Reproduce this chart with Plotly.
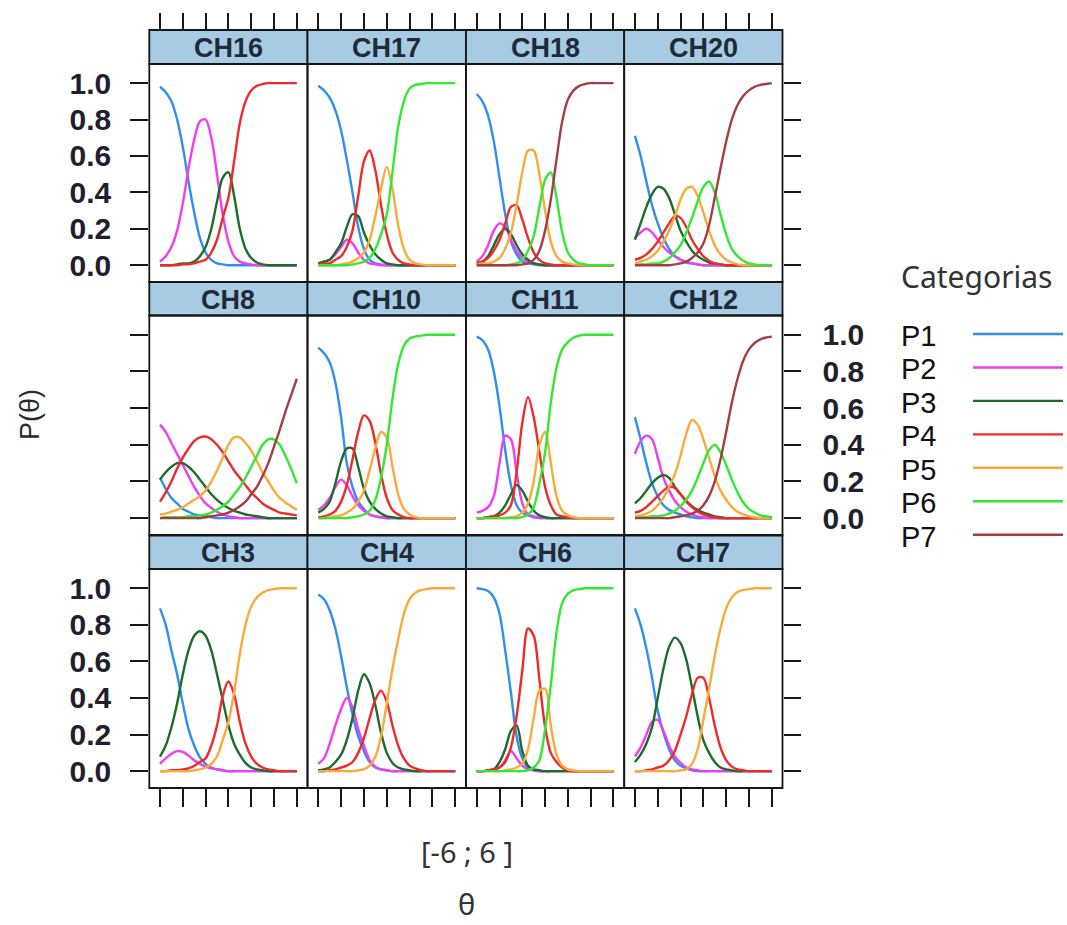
import plotly.graph_objects as go

W, H = 1067, 925

# ---------------- data ----------------
theta = [-6.0, -5.5, -5.0, -4.5, -4.0, -3.5, -3.0, -2.5, -2.0, -1.5, -1.0, -0.5,
         0.0, 0.5, 1.0, 1.5, 2.0, 2.5, 3.0, 3.5, 4.0, 4.5, 5.0, 5.5, 6.0]

categories = ["P1", "P2", "P3", "P4", "P5", "P6", "P7"]
cat_colors = ["#2f8ff0", "#f23cf2", "#1f6b2b", "#ee2a2a", "#f9aa3a", "#33e833", "#a63c46"]

panel_names = ["CH16", "CH17", "CH18", "CH20",
               "CH8", "CH10", "CH11", "CH12",
               "CH3", "CH4", "CH6", "CH7"]

y_tickvals = [0.0, 0.2, 0.4, 0.6, 0.8, 1.0]
y_ticktext = ["0.0", "0.2", "0.4", "0.6", "0.8", "1.0"]
x_tickvals = [-6, -4, -2, 0, 2, 4, 6]

CH16 = [
    [0.98, 0.95, 0.90, 0.80, 0.65, 0.46, 0.29, 0.15, 0.07, 0.03, 0.01, 0.005, 0, 0, 0, 0, 0, 0, 0, 0, 0, 0, 0, 0, 0],
    [0.02, 0.05, 0.10, 0.19, 0.34, 0.53, 0.69, 0.79, 0.80, 0.70, 0.50, 0.28, 0.13, 0.05, 0.02, 0.01, 0.005, 0, 0, 0, 0, 0, 0, 0, 0],
    [0, 0, 0, 0.005, 0.01, 0.01, 0.02, 0.05, 0.10, 0.20, 0.35, 0.48, 0.51, 0.38, 0.20, 0.09, 0.04, 0.015, 0.005, 0, 0, 0, 0, 0, 0],
    [0, 0, 0, 0, 0.005, 0.005, 0.01, 0.02, 0.03, 0.07, 0.14, 0.26, 0.37, 0.57, 0.78, 0.90, 0.96, 0.985, 0.995, 1, 1, 1, 1, 1, 1],
]
CH17 = [
    [0.985, 0.96, 0.92, 0.85, 0.74, 0.58, 0.40, 0.21, 0.09, 0.03, 0.01, 0.005, 0, 0, 0, 0, 0, 0, 0, 0, 0, 0, 0, 0, 0],
    [0.01, 0.02, 0.03, 0.06, 0.10, 0.14, 0.12, 0.07, 0.03, 0.01, 0.005, 0, 0, 0, 0, 0, 0, 0, 0, 0, 0, 0, 0, 0, 0],
    [0.01, 0.02, 0.03, 0.07, 0.12, 0.21, 0.28, 0.27, 0.18, 0.11, 0.06, 0.03, 0.01, 0.005, 0, 0, 0, 0, 0, 0, 0, 0, 0, 0, 0],
    [0, 0.01, 0.01, 0.03, 0.05, 0.10, 0.19, 0.38, 0.57, 0.63, 0.52, 0.33, 0.17, 0.07, 0.03, 0.01, 0.005, 0, 0, 0, 0, 0, 0, 0, 0],
    [0, 0, 0, 0, 0.005, 0.01, 0.02, 0.04, 0.07, 0.14, 0.27, 0.42, 0.54, 0.42, 0.22, 0.09, 0.03, 0.01, 0.005, 0, 0, 0, 0, 0, 0],
    [0, 0, 0, 0, 0, 0, 0.005, 0.01, 0.02, 0.04, 0.09, 0.17, 0.28, 0.51, 0.76, 0.90, 0.97, 0.99, 0.995, 1, 1, 1, 1, 1, 1],
]
CH18 = [
    [0.94, 0.90, 0.82, 0.68, 0.48, 0.28, 0.13, 0.06, 0.02, 0.01, 0.005, 0, 0, 0, 0, 0, 0, 0, 0, 0, 0, 0, 0, 0, 0],
    [0.02, 0.05, 0.11, 0.19, 0.23, 0.21, 0.14, 0.08, 0.04, 0.02, 0.01, 0.005, 0, 0, 0, 0, 0, 0, 0, 0, 0, 0, 0, 0, 0],
    [0.01, 0.02, 0.05, 0.11, 0.17, 0.20, 0.17, 0.11, 0.06, 0.03, 0.01, 0.005, 0, 0, 0, 0, 0, 0, 0, 0, 0, 0, 0, 0, 0],
    [0.01, 0.02, 0.04, 0.08, 0.14, 0.23, 0.32, 0.33, 0.25, 0.15, 0.07, 0.03, 0.01, 0.005, 0, 0, 0, 0, 0, 0, 0, 0, 0, 0, 0],
    [0, 0.01, 0.01, 0.02, 0.04, 0.09, 0.18, 0.33, 0.51, 0.63, 0.63, 0.50, 0.30, 0.13, 0.05, 0.02, 0.01, 0.005, 0, 0, 0, 0, 0, 0, 0],
    [0, 0, 0, 0, 0, 0, 0.005, 0.01, 0.03, 0.08, 0.16, 0.32, 0.47, 0.51, 0.37, 0.18, 0.07, 0.03, 0.01, 0.005, 0, 0, 0, 0, 0],
    [0, 0, 0, 0, 0, 0, 0, 0, 0.005, 0.01, 0.03, 0.08, 0.19, 0.36, 0.58, 0.79, 0.91, 0.96, 0.985, 0.995, 1, 1, 1, 1, 1],
]
CH20 = [
    [0.71, 0.60, 0.46, 0.33, 0.23, 0.15, 0.09, 0.05, 0.03, 0.015, 0.01, 0.005, 0, 0, 0, 0, 0, 0, 0, 0, 0, 0, 0, 0, 0],
    [0.15, 0.18, 0.20, 0.18, 0.14, 0.10, 0.07, 0.05, 0.03, 0.02, 0.01, 0.005, 0, 0, 0, 0, 0, 0, 0, 0, 0, 0, 0, 0, 0],
    [0.14, 0.23, 0.32, 0.39, 0.43, 0.42, 0.37, 0.28, 0.19, 0.13, 0.08, 0.05, 0.03, 0.015, 0.01, 0.005, 0, 0, 0, 0, 0, 0, 0, 0, 0],
    [0.03, 0.04, 0.06, 0.09, 0.13, 0.18, 0.23, 0.27, 0.26, 0.21, 0.14, 0.09, 0.05, 0.025, 0.01, 0.005, 0, 0, 0, 0, 0, 0, 0, 0, 0],
    [0.01, 0.02, 0.03, 0.05, 0.08, 0.13, 0.19, 0.27, 0.36, 0.42, 0.43, 0.38, 0.29, 0.19, 0.11, 0.06, 0.03, 0.015, 0.005, 0, 0, 0, 0, 0, 0],
    [0, 0.005, 0.005, 0.01, 0.01, 0.02, 0.04, 0.07, 0.11, 0.18, 0.26, 0.35, 0.43, 0.46, 0.40, 0.28, 0.17, 0.09, 0.05, 0.025, 0.01, 0.005, 0, 0, 0],
    [0, 0, 0, 0, 0, 0, 0, 0.005, 0.01, 0.02, 0.04, 0.07, 0.12, 0.22, 0.37, 0.53, 0.68, 0.80, 0.88, 0.93, 0.96, 0.98, 0.99, 0.995, 1.0],
]
CH8 = [
    [0.22, 0.16, 0.11, 0.08, 0.05, 0.035, 0.02, 0.015, 0.01, 0.005, 0, 0, 0, 0, 0, 0, 0, 0, 0, 0, 0, 0, 0, 0, 0],
    [0.51, 0.47, 0.41, 0.35, 0.29, 0.23, 0.17, 0.12, 0.08, 0.055, 0.035, 0.02, 0.01, 0.005, 0, 0, 0, 0, 0, 0, 0, 0, 0, 0, 0],
    [0.21, 0.25, 0.28, 0.30, 0.30, 0.28, 0.25, 0.21, 0.17, 0.13, 0.10, 0.075, 0.055, 0.04, 0.03, 0.02, 0.015, 0.01, 0.005, 0, 0, 0, 0, 0, 0],
    [0.09, 0.14, 0.20, 0.27, 0.33, 0.38, 0.42, 0.44, 0.445, 0.43, 0.40, 0.36, 0.31, 0.26, 0.22, 0.18, 0.14, 0.11, 0.08, 0.06, 0.045, 0.03, 0.025, 0.02, 0.015],
    [0.02, 0.025, 0.035, 0.045, 0.06, 0.08, 0.10, 0.12, 0.15, 0.20, 0.26, 0.33, 0.40, 0.44, 0.44, 0.41, 0.37, 0.31, 0.25, 0.20, 0.15, 0.11, 0.085, 0.065, 0.045],
    [0, 0.005, 0.005, 0.005, 0.005, 0.01, 0.01, 0.015, 0.02, 0.03, 0.045, 0.065, 0.09, 0.13, 0.17, 0.22, 0.28, 0.34, 0.40, 0.43, 0.43, 0.40, 0.34, 0.27, 0.19],
    [0, 0, 0, 0, 0, 0, 0, 0, 0.005, 0.01, 0.015, 0.02, 0.03, 0.045, 0.065, 0.09, 0.13, 0.17, 0.23, 0.30, 0.39, 0.48, 0.58, 0.67, 0.76],
]
CH10 = [
    [0.93, 0.90, 0.85, 0.74, 0.55, 0.30, 0.17, 0.09, 0.05, 0.02, 0.01, 0.005, 0, 0, 0, 0, 0, 0, 0, 0, 0, 0, 0, 0, 0],
    [0.045, 0.07, 0.11, 0.17, 0.21, 0.18, 0.12, 0.07, 0.04, 0.02, 0.01, 0.005, 0, 0, 0, 0, 0, 0, 0, 0, 0, 0, 0, 0, 0],
    [0.03, 0.05, 0.09, 0.19, 0.31, 0.38, 0.38, 0.28, 0.16, 0.09, 0.05, 0.025, 0.01, 0.005, 0, 0, 0, 0, 0, 0, 0, 0, 0, 0, 0],
    [0.005, 0.01, 0.02, 0.04, 0.09, 0.18, 0.32, 0.47, 0.56, 0.53, 0.41, 0.24, 0.11, 0.045, 0.02, 0.005, 0, 0, 0, 0, 0, 0, 0, 0, 0],
    [0, 0, 0.005, 0.01, 0.015, 0.03, 0.05, 0.09, 0.15, 0.26, 0.38, 0.47, 0.44, 0.28, 0.13, 0.05, 0.02, 0.005, 0, 0, 0, 0, 0, 0, 0],
    [0, 0, 0, 0, 0, 0, 0.005, 0.01, 0.02, 0.04, 0.10, 0.22, 0.40, 0.65, 0.84, 0.94, 0.98, 0.99, 0.995, 1, 1, 1, 1, 1, 1],
]
CH11 = [
    [0.99, 0.97, 0.92, 0.80, 0.61, 0.37, 0.18, 0.07, 0.03, 0.015, 0.005, 0, 0, 0, 0, 0, 0, 0, 0, 0, 0, 0, 0, 0, 0],
    [0.03, 0.04, 0.06, 0.12, 0.30, 0.45, 0.43, 0.25, 0.08, 0.02, 0.01, 0.005, 0, 0, 0, 0, 0, 0, 0, 0, 0, 0, 0, 0, 0],
    [0, 0, 0.005, 0.01, 0.03, 0.07, 0.13, 0.18, 0.15, 0.09, 0.04, 0.015, 0.005, 0, 0, 0, 0, 0, 0, 0, 0, 0, 0, 0, 0],
    [0, 0, 0.005, 0.01, 0.015, 0.03, 0.07, 0.25, 0.52, 0.66, 0.55, 0.36, 0.17, 0.07, 0.02, 0.01, 0.005, 0, 0, 0, 0, 0, 0, 0, 0],
    [0, 0, 0, 0, 0, 0, 0.005, 0.01, 0.03, 0.08, 0.20, 0.40, 0.47, 0.30, 0.12, 0.04, 0.015, 0.005, 0, 0, 0, 0, 0, 0, 0],
    [0, 0, 0, 0, 0, 0, 0, 0, 0.005, 0.02, 0.06, 0.19, 0.36, 0.63, 0.82, 0.92, 0.96, 0.985, 0.995, 1, 1, 1, 1, 1, 1],
]
CH12 = [
    [0.55, 0.43, 0.30, 0.19, 0.12, 0.07, 0.045, 0.03, 0.02, 0.01, 0.005, 0, 0, 0, 0, 0, 0, 0, 0, 0, 0, 0, 0, 0, 0],
    [0.35, 0.42, 0.45, 0.43, 0.33, 0.22, 0.15, 0.095, 0.06, 0.035, 0.02, 0.01, 0.005, 0, 0, 0, 0, 0, 0, 0, 0, 0, 0, 0, 0],
    [0.08, 0.11, 0.15, 0.19, 0.22, 0.235, 0.22, 0.17, 0.13, 0.095, 0.065, 0.045, 0.03, 0.02, 0.01, 0.005, 0, 0, 0, 0, 0, 0, 0, 0, 0],
    [0.03, 0.04, 0.06, 0.09, 0.12, 0.15, 0.17, 0.165, 0.13, 0.09, 0.06, 0.035, 0.02, 0.01, 0.005, 0, 0, 0, 0, 0, 0, 0, 0, 0, 0],
    [0.01, 0.015, 0.025, 0.04, 0.07, 0.11, 0.17, 0.24, 0.34, 0.46, 0.535, 0.51, 0.43, 0.33, 0.23, 0.15, 0.10, 0.06, 0.035, 0.02, 0.01, 0.005, 0, 0, 0],
    [0, 0.005, 0.005, 0.01, 0.01, 0.015, 0.025, 0.04, 0.065, 0.10, 0.15, 0.22, 0.30, 0.37, 0.40, 0.36, 0.29, 0.21, 0.14, 0.085, 0.05, 0.03, 0.015, 0.01, 0.005],
    [0, 0, 0, 0, 0, 0, 0, 0.005, 0.01, 0.015, 0.025, 0.04, 0.07, 0.12, 0.20, 0.32, 0.47, 0.63, 0.76, 0.86, 0.92, 0.955, 0.975, 0.985, 0.99],
]
CH3 = [
    [0.89, 0.80, 0.66, 0.53, 0.37, 0.23, 0.14, 0.075, 0.04, 0.02, 0.01, 0.005, 0, 0, 0, 0, 0, 0, 0, 0, 0, 0, 0, 0, 0],
    [0.04, 0.07, 0.095, 0.11, 0.105, 0.085, 0.06, 0.04, 0.025, 0.015, 0.01, 0.005, 0, 0, 0, 0, 0, 0, 0, 0, 0, 0, 0, 0, 0],
    [0.08, 0.14, 0.24, 0.37, 0.53, 0.66, 0.74, 0.765, 0.74, 0.66, 0.53, 0.39, 0.25, 0.15, 0.09, 0.045, 0.02, 0.01, 0.005, 0, 0, 0, 0, 0, 0],
    [0, 0, 0.005, 0.005, 0.01, 0.015, 0.03, 0.05, 0.07, 0.14, 0.25, 0.41, 0.49, 0.42, 0.27, 0.15, 0.08, 0.04, 0.02, 0.01, 0.005, 0, 0, 0, 0],
    [0, 0, 0, 0, 0, 0, 0.005, 0.01, 0.02, 0.04, 0.08, 0.17, 0.27, 0.43, 0.64, 0.80, 0.90, 0.95, 0.975, 0.99, 0.995, 1, 1, 1, 1],
]
CH4 = [
    [0.965, 0.94, 0.88, 0.78, 0.63, 0.46, 0.31, 0.19, 0.11, 0.05, 0.02, 0.01, 0.005, 0, 0, 0, 0, 0, 0, 0, 0, 0, 0, 0, 0],
    [0.04, 0.07, 0.15, 0.25, 0.34, 0.40, 0.35, 0.23, 0.14, 0.06, 0.025, 0.01, 0.005, 0, 0, 0, 0, 0, 0, 0, 0, 0, 0, 0, 0],
    [0.005, 0.01, 0.02, 0.05, 0.09, 0.17, 0.29, 0.44, 0.53, 0.48, 0.36, 0.21, 0.10, 0.045, 0.02, 0.01, 0.005, 0, 0, 0, 0, 0, 0, 0, 0],
    [0, 0, 0.005, 0.01, 0.02, 0.03, 0.05, 0.10, 0.18, 0.29, 0.39, 0.44, 0.38, 0.25, 0.14, 0.07, 0.03, 0.015, 0.005, 0, 0, 0, 0, 0, 0],
    [0, 0, 0, 0, 0, 0, 0, 0.005, 0.01, 0.03, 0.08, 0.19, 0.37, 0.56, 0.72, 0.86, 0.94, 0.975, 0.99, 0.995, 1, 1, 1, 1, 1],
]
CH6 = [
    [1.0, 0.995, 0.985, 0.95, 0.86, 0.66, 0.43, 0.19, 0.07, 0.02, 0.005, 0, 0, 0, 0, 0, 0, 0, 0, 0, 0, 0, 0, 0, 0],
    [0, 0, 0.005, 0.01, 0.02, 0.06, 0.11, 0.07, 0.03, 0.01, 0.005, 0, 0, 0, 0, 0, 0, 0, 0, 0, 0, 0, 0, 0, 0],
    [0, 0, 0.005, 0.01, 0.05, 0.12, 0.22, 0.25, 0.11, 0.03, 0.01, 0.005, 0, 0, 0, 0, 0, 0, 0, 0, 0, 0, 0, 0, 0],
    [0, 0, 0.005, 0.01, 0.02, 0.05, 0.13, 0.30, 0.55, 0.78, 0.74, 0.50, 0.24, 0.10, 0.05, 0.02, 0.005, 0, 0, 0, 0, 0, 0, 0, 0],
    [0, 0, 0, 0, 0, 0.005, 0.01, 0.02, 0.04, 0.12, 0.29, 0.44, 0.45, 0.25, 0.09, 0.03, 0.01, 0.005, 0, 0, 0, 0, 0, 0, 0],
    [0, 0, 0, 0, 0, 0, 0, 0, 0, 0.005, 0.02, 0.06, 0.23, 0.47, 0.76, 0.92, 0.97, 0.99, 0.995, 1, 1, 1, 1, 1, 1],
]
CH7 = [
    [0.89, 0.80, 0.67, 0.51, 0.33, 0.21, 0.12, 0.06, 0.03, 0.015, 0.005, 0, 0, 0, 0, 0, 0, 0, 0, 0, 0, 0, 0, 0, 0],
    [0.08, 0.13, 0.20, 0.27, 0.28, 0.22, 0.14, 0.08, 0.045, 0.02, 0.01, 0.005, 0, 0, 0, 0, 0, 0, 0, 0, 0, 0, 0, 0, 0],
    [0.05, 0.09, 0.15, 0.24, 0.40, 0.56, 0.68, 0.73, 0.70, 0.61, 0.46, 0.30, 0.17, 0.10, 0.05, 0.02, 0.01, 0.005, 0, 0, 0, 0, 0, 0, 0],
    [0, 0, 0.005, 0.01, 0.02, 0.03, 0.06, 0.11, 0.20, 0.30, 0.42, 0.51, 0.51, 0.40, 0.25, 0.13, 0.06, 0.025, 0.01, 0.005, 0, 0, 0, 0, 0],
    [0, 0, 0, 0, 0, 0, 0, 0, 0.005, 0.01, 0.04, 0.12, 0.28, 0.45, 0.63, 0.78, 0.89, 0.95, 0.98, 0.99, 0.995, 1, 1, 1, 1],
]

panel_series = [CH16, CH17, CH18, CH20, CH8, CH10, CH11, CH12, CH3, CH4, CH6, CH7]

# ---------------- layout geometry (pixels) ----------------
col_x = [149.3, 307.5, 466.0, 624.2, 782.5]
strip_top = [30.0, 282.0, 535.5]
panel_top = [64.0, 315.5, 569.0]
panel_bot = [282.0, 535.0, 788.0]

X_RANGE = [-6.94, 6.94]
Y_RANGE = [-0.092, 1.105]

FONT_AX = "Liberation Sans, Arial, sans-serif"
FONT_CAL = "Noto Sans, Open Sans, sans-serif"
BORDER = "#161616"
TICK_FONT = dict(family=FONT_AX, size=30, color="#1f1f2e", weight="bold")


def px(x):
    return x / W


def py(y):
    return 1 - y / H


fig = go.Figure()
layout = dict(
    width=W, height=H,
    margin=dict(l=0, r=0, t=0, b=0),
    paper_bgcolor="white", plot_bgcolor="white",
    showlegend=False,
)
shapes = []
annotations = []

for k, (name, series) in enumerate(zip(panel_names, panel_series)):
    r, c = divmod(k, 4)
    sfx = "" if k == 0 else str(k + 1)
    xa, ya = "x" + sfx, "y" + sfx

    for i, vals in enumerate(series):
        fig.add_trace(go.Scatter(
            x=theta, y=vals, mode="lines", name=categories[i],
            line=dict(color=cat_colors[i], width=2.4, shape="spline", smoothing=0.9),
            xaxis=xa, yaxis=ya, hoverinfo="skip",
        ))

    xdict = dict(
        domain=[px(col_x[c]), px(col_x[c + 1])], range=X_RANGE,
        showgrid=False, zeroline=False, showline=False,
        tickvals=x_tickvals, showticklabels=False,
        ticks="", fixedrange=True,
    )
    if r == 0:
        xdict.update(anchor="free", position=py(strip_top[0]), side="top",
                     ticks="outside", ticklen=17, tickwidth=2.2, tickcolor=BORDER)
    elif r == 2:
        xdict.update(anchor=ya, side="bottom",
                     ticks="outside", ticklen=18, tickwidth=2.2, tickcolor=BORDER)
    else:
        xdict.update(anchor=ya)

    ydict = dict(
        domain=[py(panel_bot[r]), py(panel_top[r])], range=Y_RANGE,
        anchor=xa, showgrid=False, zeroline=False, showline=False,
        tickvals=y_tickvals, ticktext=y_ticktext, showticklabels=False,
        ticks="", fixedrange=True, tickfont=TICK_FONT,
    )
    if c == 0:
        ydict.update(side="left", ticks="outside", ticklen=18, tickwidth=2.2,
                     tickcolor=BORDER, showticklabels=(r != 1),
                     ticklabelstandoff=13)
    elif c == 3:
        ydict.update(side="right", ticks="outside", ticklen=17, tickwidth=2.2,
                     tickcolor=BORDER, showticklabels=(r == 1),
                     ticklabelstandoff=16)

    layout["xaxis" + sfx] = xdict
    layout["yaxis" + sfx] = ydict

    # strip
    shapes.append(dict(type="rect", xref="paper", yref="paper",
                       x0=px(col_x[c]), x1=px(col_x[c + 1]),
                       y0=py(panel_top[r]), y1=py(strip_top[r]),
                       fillcolor="#a6cbe2", line=dict(color=BORDER, width=1.8),
                       layer="below"))
    # panel border
    shapes.append(dict(type="rect", xref="paper", yref="paper",
                       x0=px(col_x[c]), x1=px(col_x[c + 1]),
                       y0=py(panel_bot[r]), y1=py(panel_top[r]),
                       fillcolor="rgba(0,0,0,0)", line=dict(color=BORDER, width=1.8),
                       layer="above"))
    annotations.append(dict(
        text=name, xref="paper", yref="paper",
        x=px((col_x[c] + col_x[c + 1]) / 2), y=py((strip_top[r] + panel_top[r]) / 2 + 1),
        xanchor="center", yanchor="middle", showarrow=False,
        font=dict(family=FONT_AX, size=27, color="#1f2b3a", weight="bold"),
    ))

# axis titles / captions
annotations.append(dict(text="P(θ)", xref="paper", yref="paper",
                        x=px(30), y=py(415), textangle=-90, showarrow=False,
                        xanchor="center", yanchor="middle",
                        font=dict(family=FONT_AX, size=27, color="#2a2a2a")))
annotations.append(dict(text="[-6 ; 6 ]", xref="paper", yref="paper",
                        x=px(467), y=py(851), showarrow=False,
                        xanchor="center", yanchor="middle",
                        font=dict(family=FONT_CAL, size=29, color="#333333")))
annotations.append(dict(text="θ", xref="paper", yref="paper",
                        x=px(466), y=py(903), showarrow=False,
                        xanchor="center", yanchor="middle",
                        font=dict(family=FONT_CAL, size=29, color="#333333")))

# key (legend)
annotations.append(dict(text="Categorias", xref="paper", yref="paper",
                        x=px(899), y=py(276), showarrow=False,
                        xanchor="left", yanchor="middle",
                        font=dict(family=FONT_CAL, size=30, color="#333333")))
for i, cat in enumerate(categories):
    yc = 336 + 33.45 * i
    annotations.append(dict(text=cat, xref="paper", yref="paper",
                            x=px(899), y=py(yc), showarrow=False,
                            xanchor="left", yanchor="middle",
                            font=dict(family=FONT_AX, size=29, color="#111111")))
    shapes.append(dict(type="line", xref="paper", yref="paper",
                       x0=px(973), x1=px(1063), y0=py(yc - 2), y1=py(yc - 2),
                       line=dict(color=cat_colors[i], width=2.4)))

layout["shapes"] = shapes
layout["annotations"] = annotations
fig.update_layout(**layout)

fig.write_html("out.html")
